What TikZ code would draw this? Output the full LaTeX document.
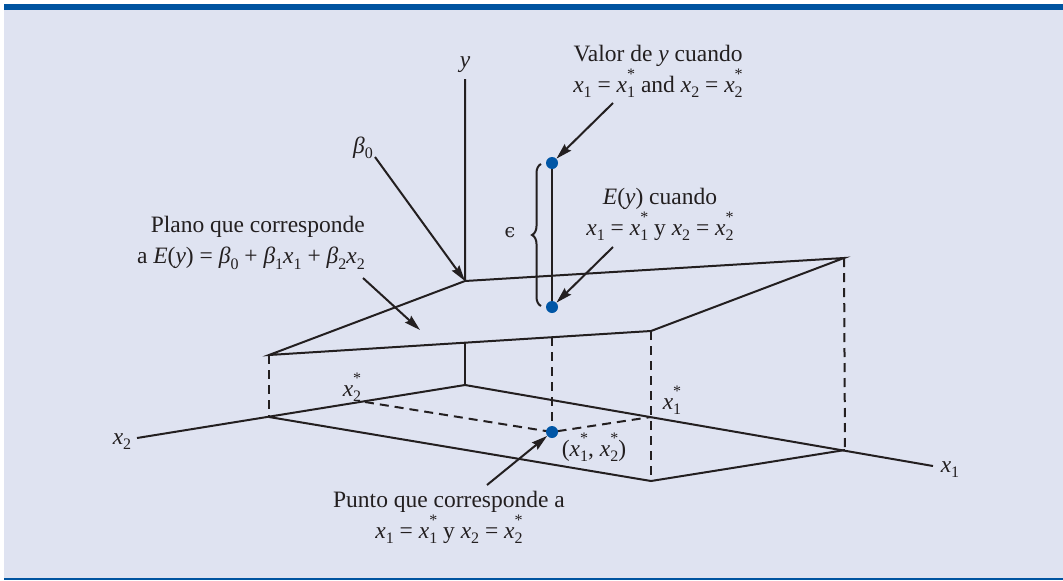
\documentclass[tikz,border=0pt]{standalone}
\usepackage{fontspec}
\setmainfont{Liberation Serif}
\newfontfamily\dvs{DejaVu Serif}
\usetikzlibrary{arrows.meta,decorations.pathreplacing}
\definecolor{bgc}{HTML}{DFE3F1}
\definecolor{barblue}{HTML}{0054A0}
\definecolor{dotblue}{HTML}{0056A6}
\definecolor{ink}{HTML}{231F20}
\newcommand\sbx[1]{\raisebox{-0.22em}{\fontsize{16}{16}\selectfont #1}}
\newcommand\xst[1]{\textit{x}\rlap{\raisebox{0.55em}{\fontsize{16}{16}\selectfont *}}\sbx{#1}}
\newcommand\xx[1]{\textit{x}\sbx{#1}}
\newcommand\bt[1]{\textit{β}\sbx{#1}}
\tikzset{
  ln/.style={line width=2pt, draw=ink},
  dsh/.style={line width=2pt, draw=ink, dash pattern=on 9pt off 6pt},
  arr/.style={line width=2pt, draw=ink, -{Stealth[length=16pt,width=9pt,inset=2pt]}},
  lbl/.style={font=\fontsize{23.5}{31}\selectfont, inner sep=0pt, text=ink},
  bdot/.style={circle, fill=dotblue, inner sep=0pt, minimum size=12pt},
}
\begin{document}
\begin{tikzpicture}[x=1pt,y=-1pt]
\fill[white] (0,0) rectangle (1063,581);
\fill[bgc] (4,4) rectangle (1063,578);
\fill[barblue] (4,4) rectangle (1063,10);
\fill[barblue] (4,577.5) rectangle (1063,579.5);
\useasboundingbox (0,0) rectangle (1063,581);
% geometry
\coordinate (Ytop) at (465,79);
\coordinate (Ot) at (465,281);
\coordinate (Rt) at (844,258);
\coordinate (Ft) at (651,331);
\coordinate (Lt) at (269,355);
\coordinate (Og) at (465,385);
\coordinate (Lg) at (269,417);
\coordinate (Fg) at (651,481);
\coordinate (Rg) at (845,450);
\coordinate (X1end) at (933,466);
\coordinate (X2end) at (137,438);
\coordinate (X2s) at (365,402);
\coordinate (X1s) at (651,417);
\coordinate (Om) at (465,343);
\coordinate (Pm) at (552,337);
\coordinate (Ptop) at (552,163);
\coordinate (Pbot) at (552,307);
\coordinate (Pg) at (552,432);
% plane and axes
\draw[ln, line join=miter] (Ytop) -- (Ot) -- (Rt) -- (Ft) -- (Lt) -- (Ot);
\draw[ln] (Om) -- (Og);
\draw[ln] (X2end) -- (Og) -- (X1end);
\draw[ln] (Lg) -- (Fg) -- (Rg);
\draw[dsh] (Lt) -- (Lg);
\draw[dsh] (Ft) -- (Fg);
\draw[dsh] (Rt) -- (Rg);
\draw[dsh] (Pm) -- (Pg);
\draw[dsh] (X2s) -- (Pg) -- (X1s);
\draw[ln] (Ptop) -- (Pbot);
\draw[ln, decorate, decoration={brace, amplitude=9pt}] (541,306) -- (541,164);
% dots
\node[bdot] (P) at (Pg) {};
\node[bdot] (Ey) at (Pbot) {};
\node[bdot] (Yv) at (Ptop) {};
% labels
\node[lbl] (ylab) at (465,65) {\textit{y}};
\node[lbl] (b0) at (363,148) {\bt{0}};
\node[lbl, anchor=east, align=right] (plano) at (365,243) {Plano que corresponde\\ a \textit{E}(\textit{y}) = \bt{0} + \bt{1}\xx{1} + \bt{2}\xx{2}};
\node[lbl, align=center] (valor) at (658,71) {Valor de \textit{y} cuando\\ \xx{1} = \xst{1} and \xx{2} = \xst{2}};
\node[lbl, align=center] (eylab) at (660,214) {\textit{E}(\textit{y}) cuando\\ \xx{1} = \xst{1} y \xx{2} = \xst{2}};
\node[lbl, align=center] (punto) at (449,517) {Punto que corresponde a\\ \xx{1} = \xst{1} y \xx{2} = \xst{2}};
\node[lbl] (x2lab) at (122,442) {\xx{2}};
\node[lbl] (x1lab) at (950,470) {\xx{1}};
\node[lbl] (x2slab) at (352,387) {\xst{2}};
\node[lbl] (x1slab) at (672,400) {\xst{1}};
\node[lbl] (plab) at (594,447) {(\xst{1}, \xst{2})};
\node[lbl, font=\dvs\fontsize{19}{19}\selectfont] (eps) at (510,233) {ϵ};
% arrows
\coordinate (a1) at (375,157);
\coordinate (a2) at (363,278);
\coordinate (a2t) at (420,330);
\coordinate (a3) at (613,103);
\coordinate (a4) at (613,247);
\coordinate (a5) at (487,485);
\draw[arr] (a1) -- (Ot);
\draw[arr] (a2) -- (a2t);
\draw[arr] (a3) -- (Yv);
\draw[arr] (a4) -- (Ey);
\draw[arr] (a5) -- (P);
\end{tikzpicture}
\end{document}
